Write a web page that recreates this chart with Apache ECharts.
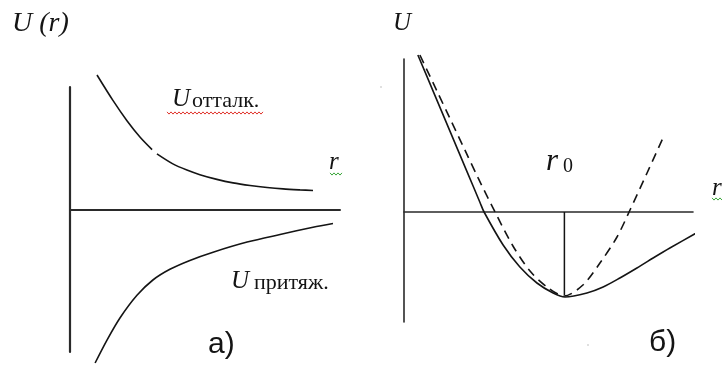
<!DOCTYPE html>
<html>
<head>
<meta charset="utf-8">
<script src="https://cdn.jsdelivr.net/npm/echarts@6/dist/echarts.min.js"></script>
<style>
  html, body { margin: 0; padding: 0; background: #ffffff; }
  #chart { width: 722px; height: 367px; }
</style>
</head>
<body>
<div id="chart"></div>
<script>
// (а) repulsive and attractive parts of the interaction energy U(r)
const repulsionR = [1.00, 1.59, 2.11, 2.59, 3.04, 3.13, 3.22, 3.81, 4.33, 4.81, 5.44, 6.04, 6.67, 7.30, 7.89, 8.52, 9.00];
const repulsionU = [1.345, 1.091, 0.888, 0.725, 0.599, '-', 0.556, 0.456, 0.394, 0.348, 0.301, 0.266, 0.240, 0.220, 0.206, 0.196, 0.190];
const attractionR = [0.93, 1.37, 1.85, 2.48, 3.07, 3.70, 4.44, 5.30, 6.56, 7.78, 9.00, 9.74];
const attractionU = [-1.535, -1.306, -1.085, -0.858, -0.705, -0.598, -0.509, -0.427, -0.326, -0.250, -0.178, -0.140];

// (б) resulting potential well and its parabolic (harmonic) approximation
const totalR = [0.48, 1.00, 1.59, 2.18, 2.63, 2.77, 3.43, 4.01, 4.60, 5.16, 5.57, 6.33, 6.89, 7.47, 8.06, 8.62, 9.20, 10.24];
const totalU = [1.57, 1.214, 0.809, 0.404, 0.095, 0.0, -0.33, -0.55, -0.71, -0.81, -0.85, -0.81, -0.75, -0.66, -0.56, -0.46, -0.36, -0.19];
const harmonicR = [0.55, 1.14, 1.59, 2.11, 2.56, 3.15, 3.77, 4.36, 4.95, 5.54, 6.19, 6.78, 7.37, 7.82, 8.41, 8.96];
const harmonicU = [1.57, 1.21, 0.935, 0.618, 0.343, 0.0, -0.34, -0.59, -0.75, -0.84, -0.73, -0.51, -0.25, 0.02, 0.39, 0.74];

// equilibrium distance r0 and the energy at the bottom of the well
const r0 = 5.55;
const wellDepth = -0.85;

const zip = (xs, ys) => xs.map((x, i) => [x, ys[i]]);

const INK = '#141414';
const SERIF = '"Liberation Serif", "DejaVu Serif", serif';
const SANS = '"Liberation Sans", Arial, sans-serif';

function hiddenAxis(gridIndex, min, max, width) {
  return {
    type: 'value', gridIndex, min, max,
    axisLine: { show: true, onZero: true, lineStyle: { color: '#2a2a2a', width } },
    axisTick: { show: false },
    axisLabel: { show: false },
    splitLine: { show: false }
  };
}

function curve(xi, data, dashed) {
  return {
    type: 'line', xAxisIndex: xi, yAxisIndex: xi,
    data, symbol: 'none', smooth: 0.3, clip: false,
    connectNulls: false, silent: true,
    lineStyle: { color: INK, width: 1.6, type: dashed ? [9, 6] : 'solid' }
  };
}

// wavy proofing underline
function squiggle(x0, x1, y, color) {
  const pts = [];
  for (let x = x0, i = 0; x <= x1; x += 2, i++) pts.push([x, y + (i % 2 ? 1.1 : -1.1)]);
  return { type: 'polyline', shape: { points: pts }, style: { stroke: color, lineWidth: 1, fill: null }, silent: true };
}

function label(text, x, y, font) {
  return { type: 'text', x, y, silent: true,
    style: { text, font, fill: INK, align: 'left', verticalAlign: 'middle' } };
}

const chart = echarts.init(document.getElementById('chart'), null, { renderer: 'canvas' });

chart.setOption({
  backgroundColor: '#ffffff',
  animation: false,
  grid: [
    { left: 70, top: 87, width: 270, height: 265, outerBoundsMode: 'none' },
    { left: 404, top: 59, width: 289, height: 263, outerBoundsMode: 'none' }
  ],
  xAxis: [hiddenAxis(0, 0, 10, 2), hiddenAxis(1, 0, 10, 1.6)],
  yAxis: [hiddenAxis(0, -1.425, 1.225, 2.2), hiddenAxis(1, -1.10, 1.53, 1.6)],
  series: [
    curve(0, zip(repulsionR, repulsionU), false),
    curve(0, zip(attractionR, attractionU), false),
    curve(1, zip(totalR, totalU), false),
    curve(1, zip(harmonicR, harmonicU), true),
    {
      type: 'line', xAxisIndex: 1, yAxisIndex: 1, symbol: 'none', silent: true,
      data: [[r0, 0], [r0, wellDepth + 0.02]],
      lineStyle: { color: INK, width: 1.5 }
    }
  ],
  graphic: [
    label('U (r)', 12, 24, 'italic 28px ' + SERIF),
    label('U', 393, 23, 'italic 25px ' + SERIF),

    label('U', 172, 99, 'italic 25px ' + SERIF),
    label('отталк.', 192, 101, '22px ' + SERIF),
    squiggle(167, 263, 113, '#e0342c'),

    label('r', 329, 162, 'italic 25px ' + SERIF),
    squiggle(330, 342, 174, '#3aa63a'),

    label('U', 231, 281, 'italic 25px ' + SERIF),
    label('притяж.', 254, 283, '22px ' + SERIF),

    label('а)', 208, 345, '30px ' + SANS),
    label('б)', 649, 343, '30px ' + SANS),

    label('r', 546, 162, 'italic 31px ' + SERIF),
    label('0', 563, 167, '20px ' + SERIF),

    label('r', 712, 188, 'italic 25px ' + SERIF),
    squiggle(712, 722, 199, '#3aa63a'),

    { type: 'circle', shape: { cx: 381, cy: 87, r: 0.8 }, style: { fill: '#b8b8b8' }, silent: true },
    { type: 'circle', shape: { cx: 588, cy: 345, r: 0.8 }, style: { fill: '#b8b8b8' }, silent: true }
  ]
});
</script>
</body>
</html>
